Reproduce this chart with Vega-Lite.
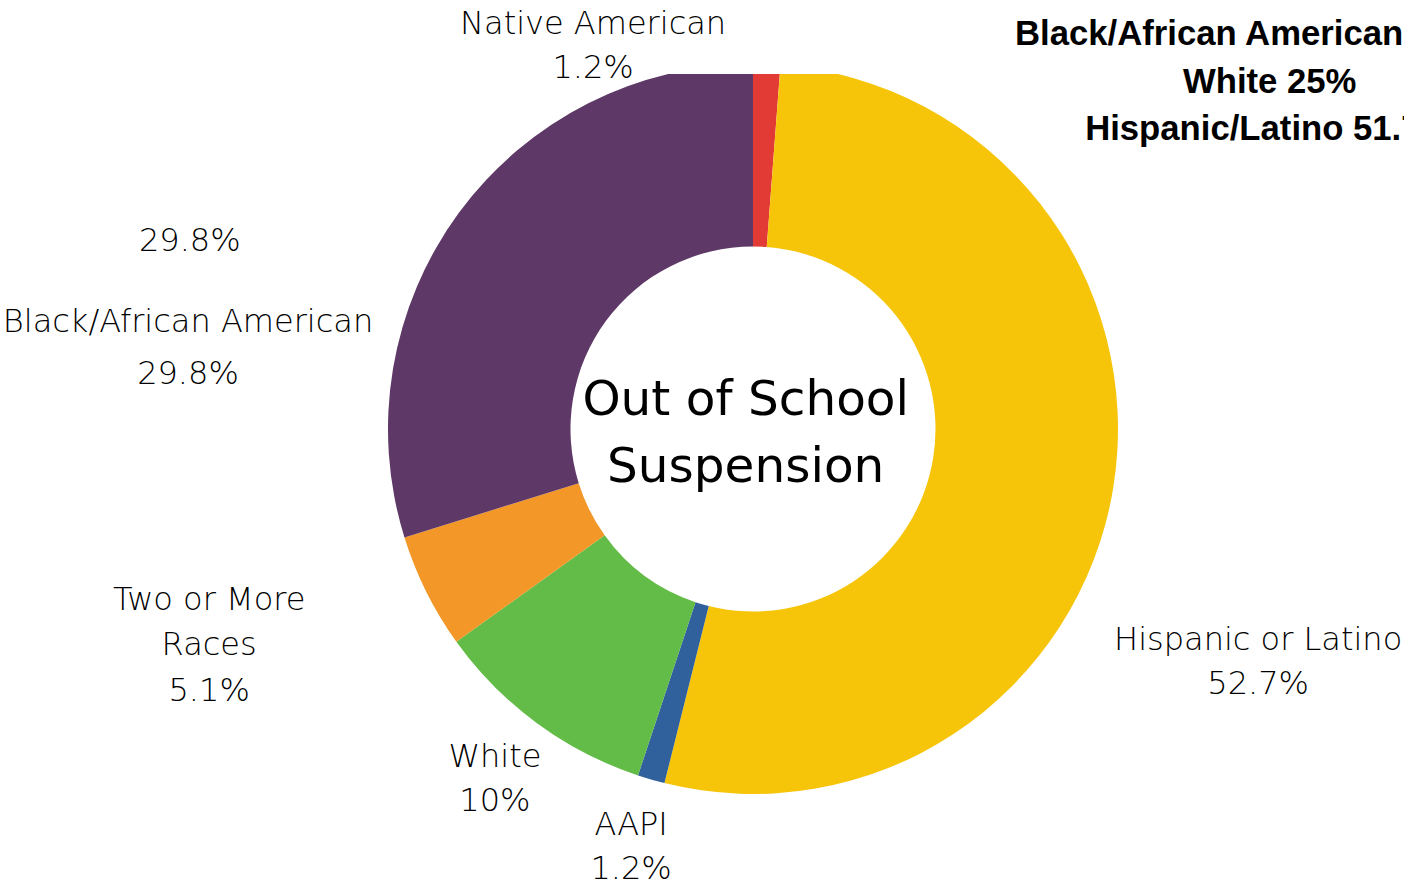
{
  "$schema": "https://vega.github.io/schema/vega-lite/v6.json",
  "width": 1404,
  "height": 814,
  "autosize": {"type": "none"},
  "padding": {"top": 74, "left": 0, "right": 0, "bottom": 0},
  "background": "#ffffff",
  "config": {"view": {"stroke": null}},
  "datasets": {
    "groups": [
      {"group": "Native American", "share": 0.012, "rank": 1},
      {"group": "Hispanic or Latino", "share": 0.527, "rank": 2},
      {"group": "AAPI", "share": 0.012, "rank": 3},
      {"group": "White", "share": 0.1, "rank": 4},
      {"group": "Two or More Races", "share": 0.051, "rank": 5},
      {"group": "Black/African American", "share": 0.298, "rank": 6}
    ],
    "labels": [
      {"group": "Native American", "name": "Native American", "lx": -4.38, "ny": 11.1, "py": 9.89},
      {"group": "Hispanic or Latino", "name": "Hispanic or Latino", "lx": 13.84, "ny": -5.78, "py": -6.99},
      {"group": "AAPI", "name": "AAPI", "lx": -3.34, "ny": -10.85, "py": -12.05},
      {"group": "White", "name": "White", "lx": -7.07, "ny": -8.99, "py": -10.19},
      {"group": "Two or More Races", "name": "Two or More\nRaces", "lx": -14.9, "ny": -4.69, "py": -7.18},
      {"group": "Black/African American", "name": "Black/African American", "lx": -15.48, "ny": 2.93, "py": 1.51},
      {"group": "Black/African American", "name": "", "lx": -15.43, "ny": 5.15, "py": 5.15}
    ],
    "notes": [
      {"note": "Black/African American", "nx": 7.18, "ny": 10.8},
      {"note": "White 25%", "nx": 11.78, "ny": 9.48},
      {"note": "Hispanic/Latino 51.7%", "nx": 9.1, "ny": 8.2}
    ]
  },
  "layer": [
    {
      "data": {"name": "groups"},
      "mark": {"type": "arc", "radius": 365, "radius2": 182.5, "clip": true},
      "encoding": {
        "x": {"datum": 0, "type": "quantitative", "scale": {"domain": [-20.63, 17.836], "nice": false, "zero": false}, "axis": null},
        "y": {"datum": 0, "type": "quantitative", "scale": {"domain": [-12.575, 9.726], "nice": false, "zero": false}, "axis": null},
        "theta": {"field": "share", "type": "quantitative", "stack": true},
        "order": {"field": "rank", "type": "quantitative"},
        "color": {
          "field": "group",
          "type": "nominal",
          "scale": {
            "domain": ["Native American", "Hispanic or Latino", "AAPI", "White", "Two or More Races", "Black/African American"],
            "range": ["#e23a35", "#f6c50a", "#30619c", "#63bc48", "#f39729", "#5e3866"]
          },
          "legend": null
        }
      }
    },
    {
      "data": {"name": "labels"},
      "mark": {"type": "text", "font": "DejaVu Sans", "fontWeight": 300, "fontSize": 32, "lineBreak": "\n", "lineHeight": 45, "baseline": "middle", "align": "center", "color": "#000000"},
      "encoding": {
        "x": {"field": "lx", "type": "quantitative", "axis": null},
        "y": {"field": "ny", "type": "quantitative", "axis": null},
        "text": {"field": "name", "type": "nominal"}
      }
    },
    {
      "data": {"name": "labels"},
      "transform": [
        {"lookup": "group", "from": {"data": {"name": "groups"}, "key": "group", "fields": ["share"]}}
      ],
      "mark": {"type": "text", "font": "DejaVu Sans", "fontWeight": 300, "fontSize": 32, "baseline": "middle", "align": "center", "color": "#000000"},
      "encoding": {
        "x": {"field": "lx", "type": "quantitative", "axis": null},
        "y": {"field": "py", "type": "quantitative", "axis": null},
        "text": {"field": "share", "type": "quantitative", "format": ".1~%"}
      }
    },
    {
      "data": {"values": [{"title": "Out of School\nSuspension"}]},
      "mark": {"type": "text", "font": "DejaVu Sans", "fontSize": 48.5, "lineBreak": "\n", "lineHeight": 67, "baseline": "middle", "align": "center", "color": "#000000"},
      "encoding": {
        "x": {"datum": -0.2, "type": "quantitative", "axis": null},
        "y": {"datum": 0.8, "type": "quantitative", "axis": null},
        "text": {"field": "title", "type": "nominal"}
      }
    },
    {
      "data": {"name": "notes"},
      "mark": {"type": "text", "font": "Liberation Sans", "fontWeight": "bold", "fontSize": 34.7, "baseline": "middle", "align": "left", "color": "#000000"},
      "encoding": {
        "x": {"field": "nx", "type": "quantitative", "axis": null},
        "y": {"field": "ny", "type": "quantitative", "axis": null},
        "text": {"field": "note", "type": "nominal"}
      }
    }
  ]
}
